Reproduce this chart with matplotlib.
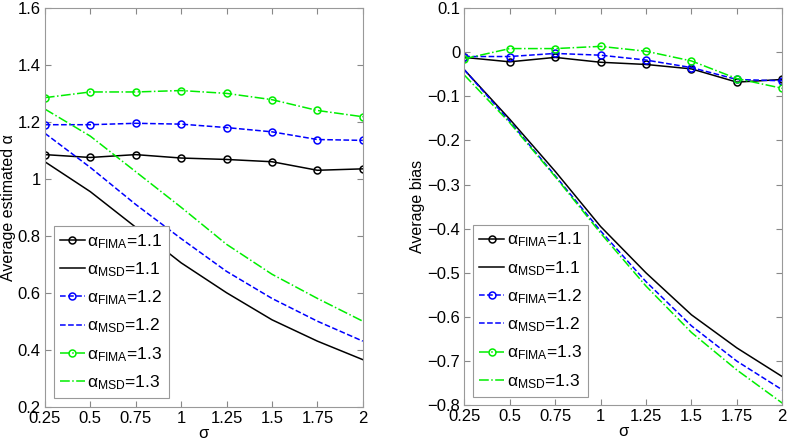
import matplotlib
matplotlib.use("Agg")
import matplotlib.pyplot as plt
import numpy as np

plt.rcParams['font.family'] = ['Liberation Sans', 'DejaVu Sans']
plt.rcParams['mathtext.fontset'] = 'custom'
plt.rcParams['mathtext.rm'] = 'Liberation Sans'
plt.rcParams['mathtext.it'] = 'Liberation Sans'

sigma = [0.25, 0.5, 0.75, 1, 1.25, 1.5, 1.75, 2]
sigma_ticks = ['0.25', '0.5', '0.75', '1', '1.25', '1.5', '1.75', '2']

# estimated alpha
fima_11 = [1.085, 1.075, 1.085, 1.073, 1.068, 1.06, 1.03, 1.035]
msd_11 = [1.06, 0.955, 0.83, 0.705, 0.60, 0.505, 0.43, 0.365]
fima_12 = [1.19, 1.19, 1.195, 1.192, 1.18, 1.165, 1.138, 1.135]
msd_12 = [1.16, 1.04, 0.91, 0.79, 0.675, 0.58, 0.50, 0.43]
fima_13 = [1.285, 1.305, 1.305, 1.31, 1.30, 1.278, 1.24, 1.218]
msd_13 = [1.245, 1.15, 1.025, 0.90, 0.77, 0.665, 0.58, 0.50]

# average bias
bias_fima_11 = [-0.012, -0.022, -0.012, -0.023, -0.028, -0.038, -0.068, -0.062]
bias_msd_11 = [-0.04, -0.152, -0.27, -0.395, -0.50, -0.595, -0.67, -0.735]
bias_fima_12 = [-0.01, -0.01, -0.003, -0.007, -0.018, -0.035, -0.062, -0.065]
bias_msd_12 = [-0.04, -0.157, -0.28, -0.405, -0.52, -0.62, -0.70, -0.765]
bias_fima_13 = [-0.015, 0.008, 0.008, 0.013, 0.002, -0.02, -0.06, -0.082]
bias_msd_13 = [-0.052, -0.16, -0.282, -0.41, -0.53, -0.635, -0.72, -0.795]

black, blue, green = 'black', '#0000ff', '#00ee00'
labels = [r'$\alpha_{\mathrm{FIMA}}$=1.1', r'$\alpha_{\mathrm{MSD}}$=1.1',
          r'$\alpha_{\mathrm{FIMA}}$=1.2', r'$\alpha_{\mathrm{MSD}}$=1.2',
          r'$\alpha_{\mathrm{FIMA}}$=1.3', r'$\alpha_{\mathrm{MSD}}$=1.3']

fig = plt.figure(figsize=(7.87, 4.42), dpi=100)
ax1 = fig.add_axes([0.057, 0.08, 0.404, 0.902])
ax2 = fig.add_axes([0.590, 0.083, 0.404, 0.899])


def draw(ax, series):
    styles = [(black, '-', 'o'), (black, '-', None),
              (blue, '--', 'o'), (blue, '--', None),
              (green, '-.', 'o'), (green, '-.', None)]
    for (c, ls, m), ys, lab in zip(styles, series, labels):
        ax.plot(sigma, ys, color=c, linestyle=ls, marker=m, markersize=5,
                markerfacecolor='none', markeredgewidth=1.1, linewidth=1.1,
                label=lab)
    ax.set_xlim(0.25, 2)
    ax.set_xticks(sigma)
    ax.set_xticklabels(sigma_ticks)
    ax.set_xlabel('σ', fontsize=12, labelpad=0)
    ax.tick_params(direction='in', top=True, right=True, labelsize=12,
                   length=4, color='#888888', pad=3)
    for s in ax.spines.values():
        s.set_color('#999999')
    leg = ax.legend(loc='lower left', fontsize=12.5, handlelength=1.45,
                    handletextpad=0.15, borderpad=0.35, labelspacing=0.55,
                    fancybox=False, framealpha=1, borderaxespad=0.5)
    leg.get_frame().set_edgecolor('#999999')
    leg.get_frame().set_linewidth(0.8)


draw(ax1, [fima_11, msd_11, fima_12, msd_12, fima_13, msd_13])
ax1.set_ylim(0.2, 1.6)
ax1.set_yticks([0.2, 0.4, 0.6, 0.8, 1.0, 1.2, 1.4, 1.6])
ax1.set_yticklabels(['0.2', '0.4', '0.6', '0.8', '1', '1.2', '1.4', '1.6'])
ax1.set_ylabel('Average estimated α', fontsize=11.5, labelpad=1)

draw(ax2, [bias_fima_11, bias_msd_11, bias_fima_12, bias_msd_12,
           bias_fima_13, bias_msd_13])
ax2.set_ylim(-0.8, 0.1)
yt = np.arange(-0.8, 0.11, 0.1)
ax2.set_yticks(yt)
ax2.set_yticklabels(['\u22120.8', '\u22120.7', '\u22120.6', '\u22120.5', '\u22120.4',
                     '\u22120.3', '\u22120.2', '\u22120.1', '0', '0.1'])
ax2.set_ylabel('Average bias', fontsize=11.5, labelpad=2)

fig.savefig('out.png', dpi=100)
